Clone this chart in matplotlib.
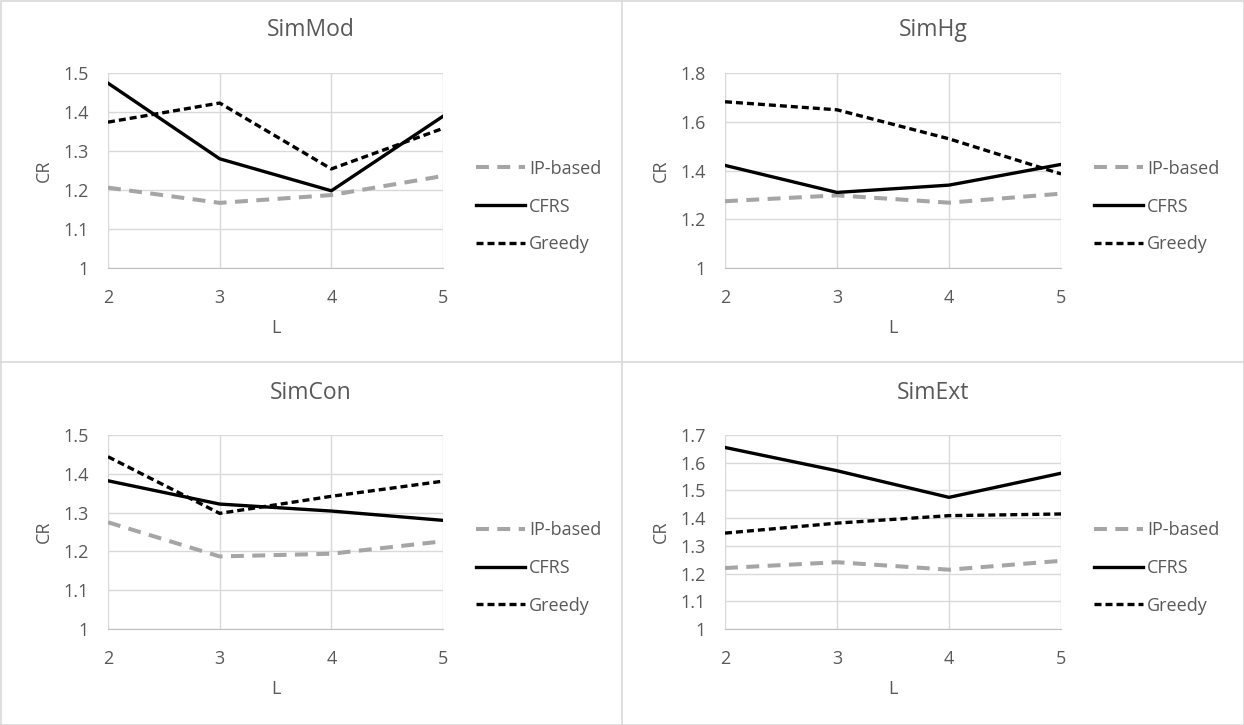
import matplotlib.pyplot as plt
from matplotlib.patches import Rectangle

L = [2, 3, 4, 5]
titles = ['SimMod', 'SimHg', 'SimCon', 'SimExt']

ip_based = [
    [1.206, 1.167, 1.187, 1.236],
    [1.274, 1.298, 1.268, 1.305],
    [1.275, 1.187, 1.194, 1.226],
    [1.220, 1.241, 1.214, 1.246],
]
cfrs = [
    [1.474, 1.280, 1.198, 1.389],
    [1.421, 1.310, 1.340, 1.425],
    [1.382, 1.322, 1.304, 1.280],
    [1.655, 1.571, 1.475, 1.562],
]
greedy = [
    [1.374, 1.423, 1.254, 1.358],
    [1.682, 1.649, 1.530, 1.386],
    [1.444, 1.298, 1.342, 1.381],
    [1.346, 1.382, 1.409, 1.415],
]
y_max = [1.5, 1.8, 1.5, 1.7]
y_step = [0.1, 0.2, 0.1, 0.1]

plt.rcParams['font.family'] = ['Open Sans', 'DejaVu Sans']

W, H = 1244, 725
fig = plt.figure(figsize=(W / 100, H / 100), dpi=100)
txt = '#595959'
fs = 13

# panel frames
border = '#d9d9d9'
fig.patches.append(Rectangle((0.5 / W, 0.5 / H), (W - 1) / W, (H - 1) / H, transform=fig.transFigure,
                             fill=False, edgecolor=border, lw=1.2))
fig.add_artist(plt.Line2D([622 / W, 622 / W], [0, 1], color=border, lw=1.2, transform=fig.transFigure))
fig.add_artist(plt.Line2D([0, 1], [1 - 362 / H, 1 - 362 / H], color=border, lw=1.2, transform=fig.transFigure))

# plot-area positions in pixels (left, top, right, bottom)
areas = [(108, 73, 443, 268), (725, 73, 1061, 268), (108, 435, 443, 629), (725, 435, 1061, 629)]
title_pos = [(311, 30), (933, 30), (311, 393), (933, 393)]

for i in range(4):
    x0, y0, x1, y1 = areas[i]
    w, h = x1 - x0, y1 - y0
    ax = fig.add_axes([x0 / W, 1 - y1 / H, w / W, h / H])
    ax.plot(L, ip_based[i], color='#a5a5a5', lw=2.9, dashes=(3.2, 2.1), label='IP-based')
    ax.plot(L, cfrs[i], color='black', lw=2.4, label='CFRS')
    ax.plot(L, greedy[i], color='black', lw=2.4, dashes=(2.1, 1.2), label='Greedy')

    ax.set_xlim(2, 5)
    ax.set_ylim(1, y_max[i])
    ax.set_xticks(L)
    n = int(round((y_max[i] - 1) / y_step[i]))
    ticks = [1 + k * y_step[i] for k in range(n + 1)]
    ax.set_yticks(ticks)
    ax.set_yticklabels(['1' if k == 0 else f'{t:g}' for k, t in enumerate(ticks)])
    ax.grid(True, color='#d9d9d9', lw=1)
    ax.set_axisbelow(True)
    for s in ['top', 'right', 'left']:
        ax.spines[s].set_visible(False)
    ax.spines['bottom'].set_color('#bfbfbf')
    ax.tick_params(axis='y', length=0, labelsize=fs, colors=txt, pad=14)
    ax.tick_params(axis='x', length=0, labelsize=fs, colors=txt, pad=15)
    ax.set_xlabel('L', fontsize=fs, color=txt, va='center')
    ax.xaxis.set_label_coords(0.5, -60 / h)
    ax.set_ylabel('CR', fontsize=fs, color=txt, va='center')
    ax.yaxis.set_label_coords(-64 / w, 0.5)
    tx, ty = title_pos[i]
    fig.text(tx / W, 1 - ty / H, titles[i], ha='center', va='center', fontsize=16.5, color=txt)
    leg = ax.legend(loc='center left', bbox_to_anchor=(1 + 33 / w, 0.315), frameon=False, fontsize=fs,
                    handlelength=2.7, handletextpad=0.25, labelspacing=1.1,
                    borderpad=0, borderaxespad=0)
    for t in leg.get_texts():
        t.set_color(txt)

fig.savefig('out.png', dpi=100)
